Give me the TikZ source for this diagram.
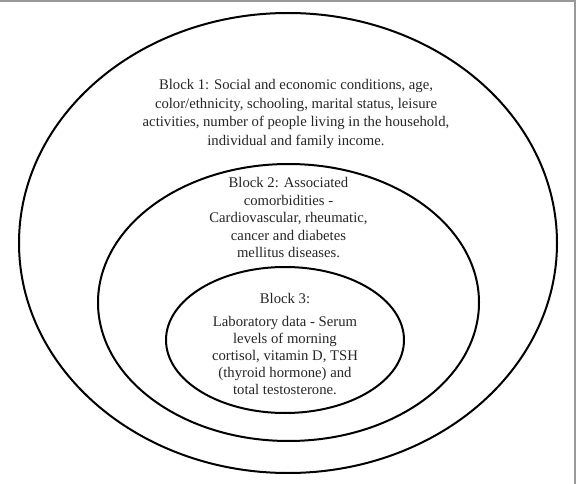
\documentclass[tikz,border=0pt]{standalone}
\usepackage{fontspec}
\setmainfont{Liberation Serif}
\begin{document}
\begin{tikzpicture}[x=1pt,y=-1pt,
  ring/.style={line width=2pt, black},
  blocktext/.style={align=center, text=black!85, inner sep=0pt,
    font=\fontsize{14.7}{18.5}\selectfont},
  frame/.style={line width=2pt, black!40}]
\useasboundingbox (0,0) rectangle (576,484);
\fill[white] (0,0) rectangle (576,484);
\draw[frame] (0,1) -- (574.5,1) -- (574.5,484);
\draw[ring] (288,243) ellipse [x radius=269pt, y radius=230pt];
\draw[ring] (288.5,302.5) ellipse [x radius=190.5pt, y radius=138.5pt];
\draw[ring] (285,340) ellipse [x radius=119pt, y radius=73pt];
\node[blocktext] (b1) at (296,114) {Block 1: Social and economic conditions, age,\\
color/ethnicity, schooling, marital status, leisure\\
activities, number of people living in the household,\\
individual and family income.};
\node[blocktext, font=\fontsize{14.7}{17.5}\selectfont] (b2) at (288.5,218) {Block 2: Associated\\
comorbidities -\\
Cardiovascular, rheumatic,\\
cancer and diabetes\\
mellitus diseases.};
\node[blocktext, font=\fontsize{14.7}{17}\selectfont] (b3) at (285,344) {Block 3:\\[6pt]
Laboratory data - Serum\\
levels of morning\\
cortisol, vitamin D, TSH\\
(thyroid hormone) and\\
total testosterone.};
\end{tikzpicture}
\end{document}
